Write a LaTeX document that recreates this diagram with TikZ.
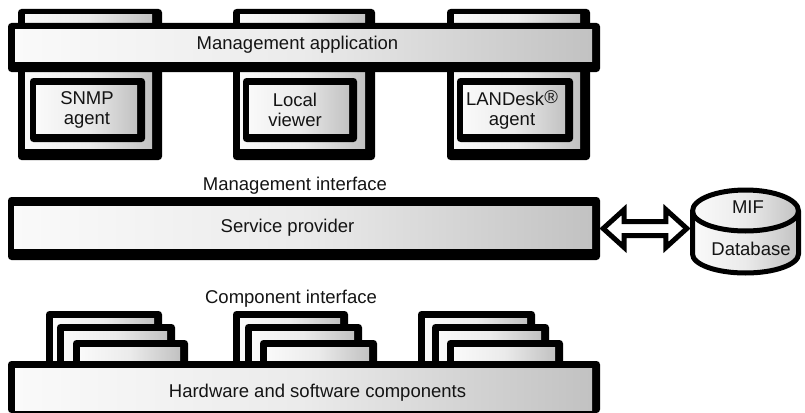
\documentclass[tikz,border=0pt]{standalone}
\usepackage{fontspec}
\setmainfont{Liberation Sans}
\usetikzlibrary{fit,calc}

\definecolor{fillL}{gray}{0.98}
\definecolor{fillM}{gray}{0.92}
\definecolor{fillR}{gray}{0.76}
\definecolor{inkc}{gray}{0.08}

\tikzset{
  lbl/.style={font=\fontsize{18.5}{20}\selectfont, inner sep=0pt, text=inkc},
  outline/.style={inner sep=0pt, draw=none},
  face/.style={left color=fillL, right color=fillR, middle color=fillM},
  dblarrow/.style={draw=black, fill=white, line width=5pt, line join=miter},
  dbshape/.style={draw=black, line width=5pt, face}
}

% black frame with a shaded face inset by (left, top, right, bottom)
\newcommand\slabbox[9]{%
  \fill[black, rounded corners=3.5pt] (#2,#3) rectangle (#4,#5);
  \shade[face] (#2+#6,#3+#7) rectangle (#4-#8,#5-#9);
  \node[outline, fit={(#2,#3)(#4,#5)}] (#1) {};
}

\begin{document}
\begin{tikzpicture}[x=1pt, y=-1pt]
\useasboundingbox (0,0) rectangle (805,412);
\fill[white] (0,0) rectangle (805,412);

% management programs standing behind the application bar
\slabbox{snmpbox}{18}{9}{162}{160}{7}{6}{10}{12}
\slabbox{localbox}{233}{9}{375}{160}{7}{6}{10}{12}
\slabbox{landeskbox}{447}{9}{590}{160}{7}{6}{10}{12}

% management application bar
\slabbox{app}{8}{23}{600}{72}{7}{7}{8}{10}
\node[lbl, anchor=base] (apptext) at (297.5,50) {Management application};

% agents
\slabbox{snmpin}{30}{78}{145}{142}{6}{7}{8}{9}
\slabbox{localin}{243}{78}{357}{142}{6}{7}{8}{9}
\slabbox{landeskin}{457}{78}{573}{142}{6}{7}{8}{9}
\node[lbl, align=center] (snmptext) at (87,110) {SNMP\\agent};
\node[lbl, align=center] (localtext) at (295,110) {Local\\viewer};
\node[lbl, align=center] (landesktext) at (512,110) {LANDesk\raisebox{2.5pt}{®}\\agent};

\node[lbl, anchor=base] (mitext) at (295,190) {Management interface};

% service provider
\slabbox{sp}{8}{197}{600}{260}{6}{9}{8}{12}
\node[lbl, anchor=base] (sptext) at (287.5,232) {Service provider};

% MIF database cylinder
\shadedraw[dbshape] (692.5,211) -- (692.5,254)
  arc[start angle=180, end angle=360, x radius=53pt, y radius=19pt]
  -- (798.5,211)
  arc[start angle=0, end angle=180, x radius=53pt, y radius=21pt] -- cycle;
\draw[black, line width=5pt] (692.5,211)
  arc[start angle=180, end angle=360, x radius=53pt, y radius=20pt];
\node[outline, fit={(690,188)(801,276)}] (db) {};
\node[lbl, anchor=base] (miftext) at (748,213) {MIF};
\node[lbl, anchor=base] (dbtext) at (751,255) {Database};

% two-way transfer between the service provider and the database
\draw[dblarrow] let \p1=(sp.east), \p2=(sp.east -| db.west) in
  (\x1+3pt,\y1) -- (\x1+24pt,\y1+19pt) -- (\x1+24pt,\y1+7pt)
  -- (\x2-24pt,\y1+7pt) -- (\x2-24pt,\y1+19pt) -- (\x2-3pt,\y1)
  -- (\x2-24pt,\y1-19pt) -- (\x2-24pt,\y1-7pt)
  -- (\x1+24pt,\y1-7pt) -- (\x1+24pt,\y1-19pt) -- cycle;

\node[lbl, anchor=base] (citext) at (291,303) {Component interface};

% component stacks
\slabbox{ca1}{46}{311}{162}{368}{7}{7}{8}{0}
\slabbox{ca2}{57}{324}{175}{368}{7}{7}{8}{0}
\slabbox{ca3}{73}{340}{188}{368}{7}{7}{8}{0}
\slabbox{cb1}{233}{311}{348}{368}{7}{7}{8}{0}
\slabbox{cb2}{245}{324}{362}{368}{7}{7}{8}{0}
\slabbox{cb3}{260}{340}{377}{368}{7}{7}{8}{0}
\slabbox{cc1}{418}{311}{535}{368}{7}{7}{8}{0}
\slabbox{cc2}{432}{324}{549}{368}{7}{7}{8}{0}
\slabbox{cc3}{447}{340}{563}{368}{7}{7}{8}{0}

% hardware and software components bar
\slabbox{hw}{8}{361}{600}{413}{7}{7}{8}{3}
\node[lbl, anchor=base] (hwtext) at (317.5,397) {Hardware and software components};
\end{tikzpicture}
\end{document}
